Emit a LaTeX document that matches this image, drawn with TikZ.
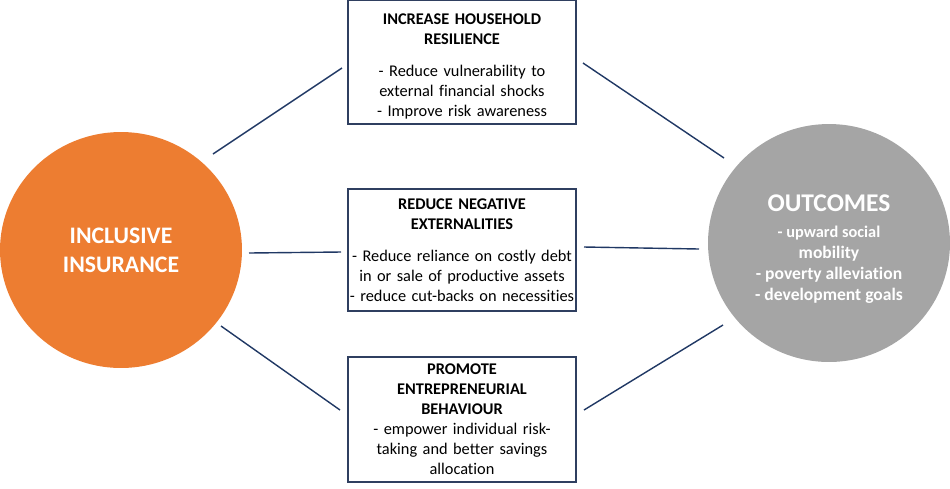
\documentclass[tikz,border=0pt]{standalone}
\usepackage{fontspec}
\setmainfont{Carlito}[Ligatures=NoCommon]
\usetikzlibrary{shapes.geometric}

\definecolor{insorange}{HTML}{ED7D31}
\definecolor{outgrey}{HTML}{A5A5A5}
\definecolor{linknavy}{HTML}{203864}
\definecolor{boxnavy}{HTML}{2F3F60}

\tikzset{
  hub/.style={ellipse, fill=#1, draw=none, text=white, align=center, inner sep=0pt},
  effectbox/.style={draw=boxnavy, line width=1pt, fill=white, align=center,
    text width=4.5cm, minimum width=4.56cm, inner sep=0pt,
    font=\fontsize{9.3}{11.4}\selectfont},
  link/.style={linknavy, line width=0.8pt}
}

\begin{document}
\begin{tikzpicture}[x=0.02cm, y=-0.02cm]
        \useasboundingbox (0,0) rectangle (950,488);

        % Circles
        \node[hub=insorange, minimum width=4.84cm, minimum height=4.72cm,
              font=\fontsize{13.5}{16.6}\selectfont\bfseries] (insurance) at (121,250)
              {INCLUSIVE\\INSURANCE};
        \node[hub=outgrey, minimum width=4.84cm, minimum height=4.76cm,
              font=\bfseries] (outcomes) at (829,243)
              {{\fontsize{14.5}{17}\selectfont\rule{0pt}{16.5pt}OUTCOMES}\\[2.7pt]
               \fontsize{9.3}{11.3}\selectfont - upward social\\mobility\\
                - poverty alleviation\\- development goals};

        % Effect boxes
        \node[effectbox, minimum height=2.48cm] (resilience) at (462,62)
              {\rule{0pt}{11pt}\textbf{INCREASE HOUSEHOLD}\\\textbf{RESILIENCE}\\[7pt]
               - Reduce vulnerability to\\external financial shocks\\- Improve risk awareness};
        \node[effectbox, minimum height=2.44cm] (externalities) at (462,250)
              {\textbf{REDUCE NEGATIVE}\\\textbf{EXTERNALITIES}\\[7pt]
               - Reduce reliance on costly debt\\in or sale of productive assets\\
               - reduce cut-backs on necessities};
        \node[effectbox, minimum height=2.5cm] (entrepreneur) at (462,419.5)
              {\textbf{PROMOTE}\\\textbf{ENTREPRENEURIAL}\\\textbf{BEHAVIOUR}\\
               - empower individual risk-\\taking and better savings\\allocation};

        % Line ends
        \coordinate (ins-top) at (213,154);
        \coordinate (ins-mid) at (249,253);
        \coordinate (ins-bot) at (221,326);
        \coordinate (res-in) at (342,68);
        \coordinate (ext-in) at (341,252);
        \coordinate (ent-in) at (340,410);
        \coordinate (res-out) at (583,63);
        \coordinate (ext-out) at (584,247);
        \coordinate (ent-out) at (584,410);
        \coordinate (out-top) at (724,158);
        \coordinate (out-mid) at (699,249);
        \coordinate (out-bot) at (723,325);

        % Connectors
        \draw[link] (ins-top) -- (res-in);
        \draw[link] (ins-mid) -- (ext-in);
        \draw[link] (ins-bot) -- (ent-in);
        \draw[link] (res-out) -- (out-top);
        \draw[link] (ext-out) -- (out-mid);
        \draw[link] (ent-out) -- (out-bot);
    \end{tikzpicture}
\end{document}
